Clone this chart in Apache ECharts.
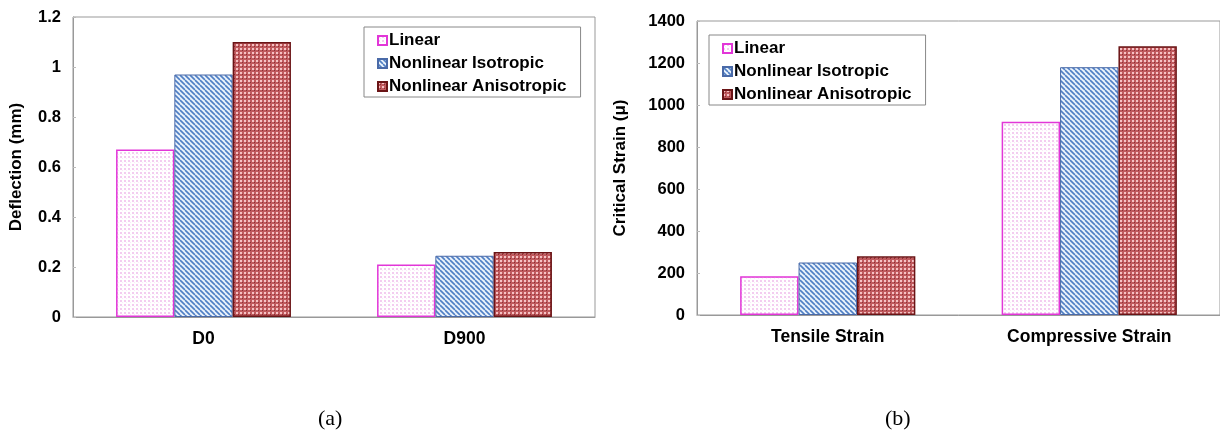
<!DOCTYPE html>
<html>
<head>
<meta charset="utf-8">
<script src="https://cdn.jsdelivr.net/npm/echarts@6/dist/echarts.min.js"></script>
<style>
  html, body { margin: 0; padding: 0; background: #ffffff; }
  #chart { width: 1220px; height: 443px; }
</style>
</head>
<body>
<div id="chart"></div>
<script>
// Panel (a): surface deflection
const deflectionCategories = ['D0', 'D900'];
const deflectionLinear = [0.67, 0.21];
const deflectionIsotropic = [0.97, 0.245];
const deflectionAnisotropic = [1.10, 0.26];

// Panel (b): critical strain
const strainCategories = ['Tensile Strain', 'Compressive Strain'];
const strainLinear = [185, 920];
const strainIsotropic = [250, 1180];
const strainAnisotropic = [280, 1280];

const seriesNames = ['Linear', 'Nonlinear Isotropic', 'Nonlinear Anisotropic'];

// Small repeating fill textures for the bars
function makePattern(size, draw) {
  const c = document.createElement('canvas');
  c.width = size; c.height = size;
  const ctx = c.getContext('2d');
  draw(ctx, size);
  return { image: c, repeat: 'repeat' };
}

const linearFill = makePattern(4, (ctx, s) => {
  ctx.fillStyle = '#ffffff';
  ctx.fillRect(0, 0, s, s);
  ctx.fillStyle = '#f3cdf0';
  ctx.fillRect(0, 0, 2, 2);
  ctx.fillStyle = '#fbe9fa';
  ctx.fillRect(2, 2, 1, 1);
});

const isotropicFill = makePattern(5, (ctx, s) => {
  ctx.fillStyle = '#eaf2fb';
  ctx.fillRect(0, 0, s, s);
  ctx.strokeStyle = '#4f7fc4';
  ctx.lineWidth = 1.6;
  for (let k = -1; k <= 1; k++) {
    ctx.beginPath();
    ctx.moveTo(k * s, 0);
    ctx.lineTo(k * s + s, s);
    ctx.stroke();
  }
});

const anisotropicFill = makePattern(4, (ctx, s) => {
  ctx.fillStyle = '#c05a5e';
  ctx.fillRect(0, 0, s, s);
  ctx.fillStyle = '#f6c2c4';
  ctx.fillRect(0, 0, 2, 2);
  ctx.fillStyle = '#8a3034';
  ctx.fillRect(2, 2, 1, 1);
});

const styles = [
  { color: linearFill, borderColor: '#e236d8', borderWidth: 1.5 },
  { color: isotropicFill, borderColor: '#4a6aa8', borderWidth: 1 },
  { color: anisotropicFill, borderColor: '#6a1416', borderWidth: 1.5 }
];

const axisFont = { fontFamily: 'Liberation Sans', fontWeight: 'bold', fontSize: 16.5, color: '#000' };

function valueAxis(gridIndex, max, interval, name, nameGap) {
  return {
    type: 'value', gridIndex: gridIndex, min: 0, max: max, interval: interval,
    name: name, nameLocation: 'middle', nameGap: nameGap,
    nameTextStyle: Object.assign({}, axisFont, { fontSize: 17 }),
    axisLine: { show: true, lineStyle: { color: '#999', width: 1 } },
    axisTick: { show: true, inside: true, length: 3, lineStyle: { color: '#bbb' } },
    axisLabel: Object.assign({}, axisFont, { margin: 12, formatter: (v) => String(+v.toFixed(2)) }),
    splitLine: { show: false }
  };
}

function categoryAxis(gridIndex, data) {
  return {
    type: 'category', gridIndex: gridIndex, data: data,
    axisLine: { show: true, lineStyle: { color: '#999', width: 1 } },
    axisTick: { show: false },
    axisLabel: Object.assign({}, axisFont, { fontSize: 17.5, margin: 13 })
  };
}

function barSeries(i, gridIndex, values) {
  return {
    type: 'bar', name: seriesNames[i],
    xAxisIndex: gridIndex, yAxisIndex: gridIndex,
    data: values, barGap: '0%', barCategoryGap: '33%',
    itemStyle: styles[i],
    emphasis: { disabled: true }
  };
}

function legend(left, top) {
  return {
    orient: 'vertical', left: left, top: top,
    backgroundColor: '#fff', borderColor: '#888', borderWidth: 1,
    padding: [5, 14, 2, 13], itemGap: 6,
    itemWidth: 9, itemHeight: 9, icon: 'rect',
    textStyle: Object.assign({}, axisFont, { fontSize: 17, padding: [0, 0, 0, -3] }),
    data: seriesNames
  };
}

const chart = echarts.init(document.getElementById('chart'), null, { renderer: 'canvas' });
chart.setOption({
  animation: false,
  backgroundColor: '#ffffff',
  grid: [
    { left: 73, top: 17, width: 522, height: 300, show: true, borderColor: '#999', borderWidth: 1, backgroundColor: 'transparent' },
    { left: 697, top: 21, width: 525, height: 294, show: true, borderColor: '#999', borderWidth: 1, backgroundColor: 'transparent' }
  ],
  xAxis: [categoryAxis(0, deflectionCategories), categoryAxis(1, strainCategories)],
  yAxis: [valueAxis(0, 1.2, 0.2, 'Deflection (mm)', 48), valueAxis(1, 1400, 200, 'Critical Strain (μ)', 68)],
  legend: [legend(364, 27), legend(709, 35)],
  series: [
    barSeries(0, 0, deflectionLinear),
    barSeries(1, 0, deflectionIsotropic),
    barSeries(2, 0, deflectionAnisotropic),
    barSeries(0, 1, strainLinear),
    barSeries(1, 1, strainIsotropic),
    barSeries(2, 1, strainAnisotropic)
  ],
  graphic: [
    { type: 'text', left: 318, top: 408, style: { text: '(a)', font: '22px "Liberation Serif"', fill: '#000' } },
    { type: 'text', left: 885, top: 408, style: { text: '(b)', font: '22px "Liberation Serif"', fill: '#000' } }
  ]
});
</script>
</body>
</html>
